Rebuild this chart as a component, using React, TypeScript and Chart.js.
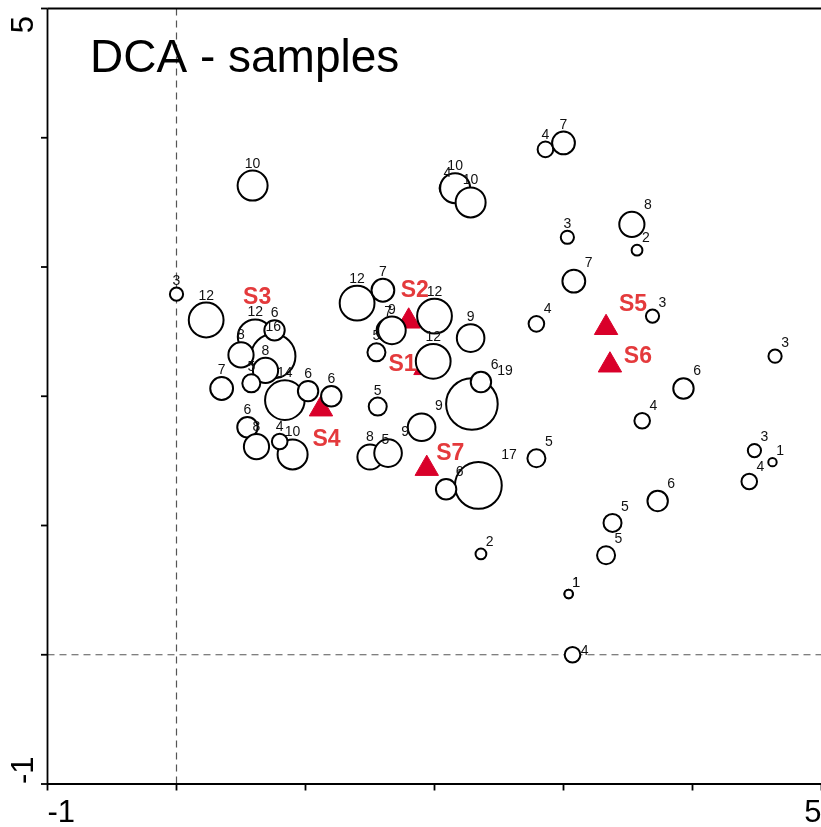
import React, { useEffect, useRef } from 'react';
import { Chart, registerables } from 'chart.js';

Chart.register(...registerables);

const TITLE = 'DCA - samples';
const AXIS_MIN = -1;
const AXIS_MAX = 5;
const axisEndLabels = ['-1', '5'];

// Sample scores on DCA axis 1 / axis 2 and the count written beside each sample.
// Listed in drawing order, so later samples sit on top of earlier ones.
const sampleAxis1 = [
  0.61, 0.75, 0.76, 0.23, 0.59, 0.0, 0.5, 0.69, 0.58, 0.35, 0.84, 1.02, 1.2, 0.55, 0.62, 0.9, 0.8,
  1.4, 1.6, 1.64, 1.67, 1.55, 2.0, 1.99, 2.28, 2.29, 2.36, 1.56, 1.9, 1.5, 1.62, 1.64, 2.34, 2.09,
  2.79, 2.79, 2.86, 3.0, 2.1, 2.16, 2.28, 3.03, 3.08, 3.53, 3.57, 3.69, 3.93, 3.61, 4.64, 4.48, 4.62,
  4.44, 3.73, 3.38, 3.33, 2.36, 3.04, 3.04, 3.07,
];
const sampleAxis2 = [
  2.46, 2.31, 2.51, 2.59, 3.63, 2.79, 2.32, 2.2, 2.1, 2.06, 1.97, 2.04, 2.0, 1.76, 1.61, 1.55, 1.65,
  2.72, 2.82, 2.51, 2.51, 2.34, 2.62, 2.27, 2.45, 1.94, 2.11, 1.92, 1.76, 1.53, 1.54, 1.56, 1.31, 1.28,
  2.56, 1.52, 3.91, 3.96, 3.61, 3.61, 3.5, 3.23, 2.89, 3.33, 3.13, 2.62, 2.06, 1.81, 2.31, 1.58, 1.49,
  1.34, 1.19, 1.02, 0.77, 0.78, 0.47, 0.47, 0.0,
];
const sampleCount = [
  12, 16, 6, 12, 10, 3, 8, 8, 5, 7, 14, 6, 6, 6, 8, 10, 4,
  12, 7, 7, 9, 5, 12, 12, 9, 19, 6, 5, 9, 8, 5, 9, 17, 6,
  4, 5, 4, 7, 4, 10, 10, 3, 7, 8, 2, 3, 6, 4, 3, 3, 1,
  4, 6, 5, 5, 2, 1, 1, 4,
];
// where each count is written relative to its symbol
const sampleLabelSide = [
  'N', 'N', 'N', 'N', 'N', 'N', 'N', 'N', 'N', 'N', 'N', 'N', 'N', 'N', 'N', 'N', 'N',
  'N', 'N', 'N', 'N', 'N', 'N', 'N', 'N', 'NE', 'NE', 'N', 'NE', 'N', 'N', 'NE', 'NE', 'NE',
  'NE', 'NE', 'N', 'N', 'N', 'N', 'N', 'N', 'NE', 'NE', 'NE', 'NE', 'NE', 'NE', 'NE', 'NE', 'NE',
  'NE', 'NE', 'NE', 'NE', 'NE', 'NE', 'NE', 'E',
];

// Sites (supplementary samples) shown as red triangles
const siteNames = ['S1', 'S2', 'S3', 'S4', 'S5', 'S6', 'S7'];
const siteAxis1 = [1.93, 1.8, 0.78, 1.12, 3.33, 3.36, 1.94];
const siteAxis2 = [2.22, 2.58, 2.41, 1.9, 2.53, 2.24, 1.44];
// pixel shift of each site name from its triangle
const siteLabelShift = [
  [-23, -5], [6, -32], [-20, -47], [5.5, 29], [27, -24.5], [28, -10.5], [23.5, -16.5],
];

const FONT = '"Liberation Sans", Arial, Helvetica, sans-serif';
const SITE_RED = '#d9002a';
const SITE_TEXT = '#e43a3c';

const symbolRadius = (n: number) => 3 + 1.2 * n;

const ordinationDecor = {
  id: 'ordinationDecor',
  beforeDatasetsDraw(chart: any) {
    const { ctx, chartArea: a, scales } = chart;
    const xs = scales.x;
    const ys = scales.y;
    const seg = (x1: number, y1: number, x2: number, y2: number) => {
      ctx.beginPath();
      ctx.moveTo(x1, y1);
      ctx.lineTo(x2, y2);
      ctx.stroke();
    };
    ctx.save();

    // dashed zero lines
    ctx.strokeStyle = '#555';
    ctx.lineWidth = 1.2;
    ctx.setLineDash([7, 5]);
    const x0 = xs.getPixelForValue(0);
    const y0 = ys.getPixelForValue(0);
    seg(x0, a.top, x0, a.bottom);
    seg(a.left, y0, a.right, y0);
    ctx.setLineDash([]);

    // axes, top edge and tick marks
    ctx.strokeStyle = '#000';
    ctx.lineWidth = 1.8;
    seg(a.left, a.top, a.left, a.bottom);
    seg(a.left, a.bottom, a.right, a.bottom);
    seg(a.left, a.top, a.right, a.top);
    for (let v = AXIS_MIN; v <= AXIS_MAX; v++) {
      const px = xs.getPixelForValue(v);
      seg(px, a.bottom, px, a.bottom + 6.5);
      const py = ys.getPixelForValue(v);
      seg(a.left - 6.5, py, a.left, py);
    }

    // end labels of both axes
    ctx.fillStyle = '#000';
    ctx.font = `31px ${FONT}`;
    ctx.textBaseline = 'alphabetic';
    ctx.textAlign = 'left';
    ctx.fillText(axisEndLabels[0], xs.getPixelForValue(AXIS_MIN), a.bottom + 38);
    ctx.textAlign = 'right';
    ctx.fillText(axisEndLabels[1], xs.getPixelForValue(AXIS_MAX), a.bottom + 38);

    ctx.save();
    ctx.translate(a.left - 14.5, ys.getPixelForValue(AXIS_MIN));
    ctx.rotate(-Math.PI / 2);
    ctx.textAlign = 'left';
    ctx.fillText(axisEndLabels[0], 0, 0);
    ctx.restore();

    ctx.save();
    ctx.translate(a.left - 14.5, ys.getPixelForValue(AXIS_MAX) + 7.5);
    ctx.rotate(-Math.PI / 2);
    ctx.textAlign = 'right';
    ctx.fillText(axisEndLabels[1], 0, 0);
    ctx.restore();

    // title inside the plot
    ctx.font = `46px ${FONT}`;
    ctx.textAlign = 'left';
    ctx.fillText(TITLE, a.left + 42.5, a.top + 63.5);

    ctx.restore();
  },
  afterDatasetsDraw(chart: any) {
    const { ctx } = chart;
    ctx.save();

    // sample counts
    ctx.fillStyle = '#111';
    ctx.font = `14px ${FONT}`;
    ctx.textBaseline = 'alphabetic';
    const samples = chart.getDatasetMeta(0).data;
    samples.forEach((pt: any, i: number) => {
      const r = symbolRadius(sampleCount[i]);
      const side = sampleLabelSide[i];
      const text = String(sampleCount[i]);
      if (side === 'N') {
        ctx.textAlign = 'center';
        ctx.fillText(text, pt.x, pt.y - r - 3);
      } else if (side === 'NE') {
        ctx.textAlign = 'left';
        ctx.fillText(text, pt.x + r - 0.5, pt.y - r - 3);
      } else {
        ctx.textAlign = 'left';
        ctx.fillText(text, pt.x + r + 0.5, pt.y);
      }
    });

    // site names
    ctx.fillStyle = SITE_TEXT;
    ctx.font = `bold 23px ${FONT}`;
    ctx.textAlign = 'center';
    const sites = chart.getDatasetMeta(1).data;
    sites.forEach((pt: any, i: number) => {
      const [dx, dy] = siteLabelShift[i];
      ctx.fillText(siteNames[i], pt.x + dx, pt.y + dy + 8.2);
    });

    ctx.restore();
  },
};

export default function App() {
  const canvasRef = useRef<HTMLCanvasElement | null>(null);

  useEffect(() => {
    const canvas = canvasRef.current;
    if (!canvas) return;

    const chart = new Chart(canvas, {
      type: 'scatter',
      data: {
        datasets: [
          {
            label: 'samples',
            data: sampleAxis1.map((v, i) => ({ x: v, y: sampleAxis2[i] })),
            pointStyle: 'circle',
            pointRadius: (c: any) => symbolRadius(sampleCount[c.dataIndex]),
            pointBackgroundColor: '#ffffff',
            pointBorderColor: '#000000',
            pointBorderWidth: 2,
            order: 1,
            clip: false,
          },
          {
            label: 'sites',
            data: siteAxis1.map((v, i) => ({ x: v, y: siteAxis2[i] })),
            pointStyle: 'triangle',
            pointRadius: 13.5,
            pointBackgroundColor: SITE_RED,
            pointBorderColor: SITE_RED,
            pointBorderWidth: 1,
            order: 2,
            clip: false,
          },
        ],
      },
      options: {
        animation: false,
        responsive: false,
        devicePixelRatio: 1,
        events: [],
        layout: {
          autoPadding: false,
          padding: { left: 47.5, right: 8.5, top: 8.5, bottom: 43 },
        },
        scales: {
          x: { type: 'linear', min: AXIS_MIN, max: AXIS_MAX, display: false },
          y: { type: 'linear', min: AXIS_MIN, max: AXIS_MAX, display: false },
        },
        plugins: {
          legend: { display: false },
          tooltip: { enabled: false },
          title: { display: false },
        },
      },
      plugins: [ordinationDecor],
    });

    return () => chart.destroy();
  }, []);

  return (
    <div
      style={{
        position: 'absolute',
        left: 0,
        top: 0,
        width: 821,
        height: 827,
        overflow: 'hidden',
        background: '#fff',
      }}
    >
      <canvas ref={canvasRef} width={830} height={827} style={{ width: 830, height: 827, display: 'block' }} />
    </div>
  );
}
